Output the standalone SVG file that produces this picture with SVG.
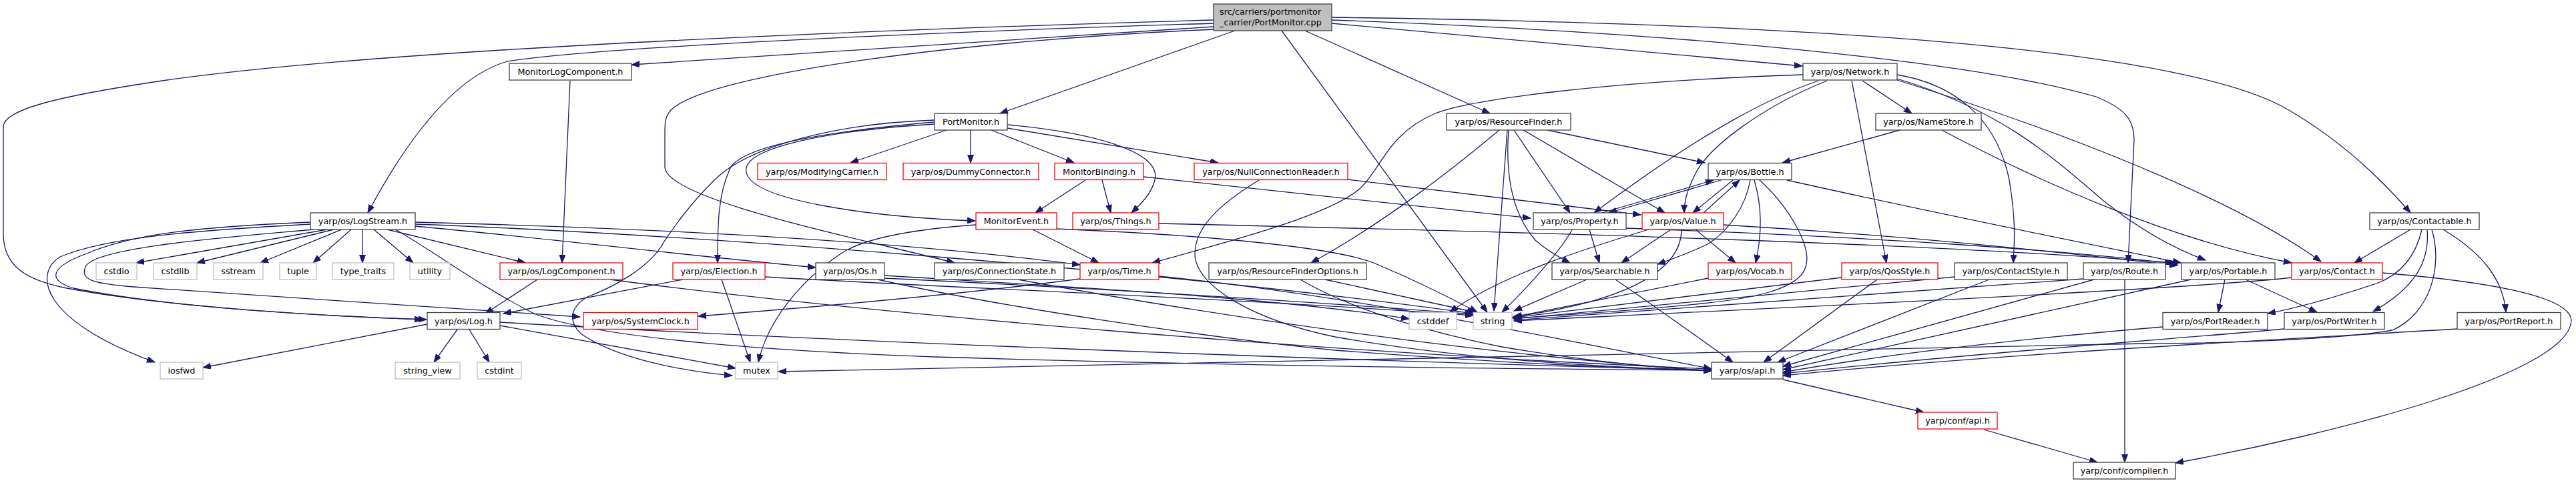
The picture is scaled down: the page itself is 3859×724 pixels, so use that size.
<svg xmlns="http://www.w3.org/2000/svg" width="3859" height="724" viewBox="0 0 3859 724">
<style>
.n rect{fill:#ffffff;stroke:#404040;stroke-width:1.3}
.n.r rect{stroke:#ff0000}
.n.g rect{stroke:#bfbfbf}
.n.m rect{fill:#bfbfbf}
text{font-family:"DejaVu Sans","Liberation Sans",sans-serif;font-size:12.8px;fill:#000000;text-anchor:middle}
.n.m text{text-anchor:start}
#edges path{fill:none;stroke:#191970;stroke-width:1.3;marker-end:url(#a)}
</style>
<defs>
<marker id="a" markerWidth="13" markerHeight="10" refX="12" refY="4.5" orient="auto" markerUnits="userSpaceOnUse">
<path d="M0,0 L12,4.5 L0,9 z" fill="#191970" stroke="#191970" stroke-width="1"/>
</marker>
</defs>
<rect width="3859" height="724" fill="#ffffff"/>
<g id="edges">
<!-- main -->
<path d="M1818,30 C1400,42 600,70 250,120 C80,145 5,165 5,190 L5,350 C5,400 40,420 100,432 C250,460 480,474 639,479"/>
<path d="M1818,35 C1400,48 900,70 760,92 C690,112 620,190 551,319"/>
<path d="M1818,40 L946,97"/>
<path d="M1818,44 C1450,60 1060,110 1005,165 C996,175 996,185 996,200 L996,250 C996,300 1300,360 1430,394"/>
<path d="M1850,46 L1498,170"/>
<path d="M1920,46 L2228,468"/>
<path d="M1955,46 L2232,170"/>
<path d="M1995,35 L2700,99"/>
<path d="M1995,30 C2500,48 2950,90 3140,145 C3190,165 3197,185 3197,210 L3188,394"/>
<path d="M1995,26 C2700,35 3250,70 3420,160 C3500,205 3560,260 3611,319"/>
<!-- MonitorLogComponent -->
<path d="M854,121 L842,394"/>
<!-- PortMonitor -->
<path d="M1418,195 L1274,244"/>
<path d="M1454,195 L1454,244"/>
<path d="M1485,195 L1609,244"/>
<path d="M1509,192 L1825,244"/>
<path d="M1509,187 C1650,200 1740,230 1730,270 C1725,290 1710,305 1695,319"/>
<path d="M1400,186 C1250,195 1110,220 1118,258 C1125,300 1300,325 1461,331"/>
<path d="M1400,183 C1260,195 1120,215 1095,250 C1075,290 1075,340 1075,394"/>
<path d="M1400,180 C1250,185 1120,220 1070,270 C1030,310 1010,340 995,362 C975,400 920,430 880,445 C855,460 850,480 870,500 C920,535 1010,555 1097,563"/>
<!-- MonitorBinding -->
<path d="M1626,270 L1551,319"/>
<path d="M1651,270 L1664,319"/>
<path d="M1713,265 L2293,327"/>
<!-- NullConnectionReader -->
<path d="M2019,269 L2458,322"/>
<path d="M1886,270 C1820,310 1790,345 1790,380 C1790,430 1880,480 2000,505 C2200,540 2400,550 2564,556"/>
<!-- MonitorEvent -->
<path d="M1547,344 L1646,394"/>
<path d="M1462,337 C1350,345 1290,360 1260,380 C1200,420 1150,480 1136,543"/>
<path d="M1583,343 C1800,352 2000,370 2060,395 C2120,420 2170,445 2213,468"/>
<!-- Things -->
<path d="M1736,335 C2300,348 2900,365 3255,394"/>
<!-- Property -->
<path d="M2400,319 L2567,270"/>
<path d="M2381,344 L2396,394"/>
<path d="M2355,344 C2345,365 2300,420 2250,468"/>
<path d="M2436,342 C2800,355 3100,375 3262,396"/>
<!-- Bottle -->
<path d="M2578,270 L2410,319"/>
<path d="M2596,270 L2536,319"/>
<path d="M2622,270 C2615,310 2590,345 2560,365 C2530,380 2500,390 2483,396"/>
<path d="M2628,270 C2640,310 2640,350 2630,394"/>
<path d="M2636,270 C2680,310 2715,370 2705,400 C2695,435 2620,448 2550,455 C2450,465 2350,472 2266,477"/>
<path d="M2677,270 C2900,320 3150,370 3267,394"/>
<!-- Value -->
<path d="M2552,319 L2606,270"/>
<path d="M2503,344 L2429,394"/>
<path d="M2470,344 C2400,365 2250,410 2172,468"/>
<path d="M2519,344 C2519,400 2450,450 2266,475"/>
<path d="M2540,344 L2600,394"/>
<path d="M2582,337 C2800,350 3000,368 3262,398"/>
<!-- ResourceFinder -->
<path d="M2246,195 C2180,250 2080,330 1964,394"/>
<path d="M2258,195 L2238,466"/>
<path d="M2260,195 C2255,260 2265,320 2300,360 C2320,378 2340,388 2352,394"/>
<path d="M2268,195 L2352,319"/>
<path d="M2282,195 L2494,319"/>
<path d="M2318,195 L2554,244"/>
<!-- ResourceFinderOptions -->
<path d="M1985,419 L2210,468"/>
<path d="M1948,419 C2000,450 2100,490 2250,520 C2400,545 2500,552 2564,556"/>
<!-- Network -->
<path d="M2701,112 C2400,122 2200,150 2150,170 C2080,200 2070,250 2040,280 C2000,320 1850,360 1726,394"/>
<path d="M2724,121 C2660,143 2560,190 2388,319"/>
<path d="M2737,121 C2640,160 2560,220 2540,260 C2525,290 2523,305 2523,319"/>
<path d="M2790,121 L2864,170"/>
<path d="M2774,121 L2826,394"/>
<path d="M2842,112 C2920,125 2990,170 3010,270 C3020,330 3018,360 3016,394"/>
<path d="M2842,118 C3000,165 3080,240 3150,300 C3200,340 3250,370 3304,390"/>
<path d="M2842,120 C3100,200 3350,300 3477,392"/>
<!-- NameStore -->
<path d="M2846,195 L2670,244"/>
<path d="M2909,195 C3050,270 3250,360 3433,394"/>
<!-- Searchable -->
<path d="M2377,419 L2268,466"/>
<path d="M2420,419 C2480,460 2550,510 2596,543"/>
<!-- Vocab -->
<path d="M2559,417 L2268,475"/>
<!-- QosStyle -->
<path d="M2759,416 L2268,476"/>
<path d="M2812,419 L2642,543"/>
<!-- ContactStyle -->
<path d="M2928,415 L2268,478"/>
<path d="M2980,419 L2663,543"/>
<!-- Route -->
<path d="M3121,418 L2268,480"/>
<path d="M3137,419 L2671,549"/>
<path d="M3183,419 L3183,693"/>
<!-- Portable -->
<path d="M3333,419 L3323,468"/>
<path d="M3364,419 L3471,468"/>
<path d="M3282,419 L2671,554"/>
<!-- Contact -->
<path d="M3433,416 C3300,432 2700,460 2268,481"/>
<path d="M3569,409 C3700,420 3850,440 3852,480 C3850,560 3500,650 3259,694"/>
<!-- PortReader / PortWriter / PortReport -->
<path d="M3240,490 C3000,510 2800,535 2671,558"/>
<path d="M3422,493 C3300,505 3000,525 2671,560"/>
<path d="M3681,493 C3400,510 3000,530 2671,563"/>
<!-- Contactable -->
<path d="M3611,344 L3527,394"/>
<path d="M3628,344 C3620,380 3600,410 3560,425 C3500,445 3450,460 3397,470"/>
<path d="M3636,344 C3640,390 3620,430 3555,467"/>
<path d="M3643,344 C3660,400 3640,470 3584,495 C3500,510 3300,515 3214,515 L1166,557"/>
<path d="M3660,344 C3720,380 3750,420 3754,468"/>
<!-- Election -->
<path d="M1023,419 L754,470"/>
<path d="M1081,419 L1124,543"/>
<path d="M1146,415 C1400,430 1900,450 2207,473"/>
<!-- Os -->
<path d="M1315,419 C1500,460 1800,505 2000,525 C2300,548 2450,552 2564,555"/>
<path d="M1325,413 C1600,430 1900,445 2111,478"/>
<path d="M1325,417 C1700,435 2000,455 2207,471"/>
<!-- ConnectionState -->
<path d="M1525,419 C1800,470 2200,530 2564,556"/>
<!-- Time -->
<path d="M1618,418 C1450,440 1250,458 1046,474"/>
<path d="M1736,414 C2000,440 2300,500 2564,553"/>
<!-- LogComponent -->
<path d="M805,419 L727,470"/>
<path d="M914,419 C1300,470 2000,530 2564,553"/>
<!-- Log -->
<path d="M640,486 L304,551"/>
<path d="M685,494 L650,543"/>
<path d="M703,494 L733,543"/>
<path d="M749,488 L1102,552"/>
<path d="M749,483 C1200,510 2000,540 2564,555"/>
<!-- LogStream -->
<path d="M465,333 C300,340 200,350 130,380 C75,400 70,420 110,432 C250,460 450,472 633,479"/>
<path d="M465,336 C300,345 160,355 90,385 C50,410 60,480 232,543"/>
<path d="M470,344 C350,355 140,370 128,400 C120,420 140,425 200,430 C400,445 700,462 869,475"/>
<path d="M490,344 L204,394"/>
<path d="M500,344 L295,394"/>
<path d="M512,344 L390,394"/>
<path d="M526,344 L469,394"/>
<path d="M543,344 L543,394"/>
<path d="M560,344 L619,394"/>
<path d="M580,344 L787,394"/>
<path d="M592,344 C640,370 720,430 800,470 C900,510 1200,528 1400,535 C1900,550 2300,553 2564,555"/>
<path d="M622,336 C1000,350 1700,400 2207,470"/>
<path d="M622,339 C800,355 1000,380 1222,401"/>
<path d="M622,333 C900,340 1300,355 1618,397"/>
<!-- api -->
<path d="M2671,569 L2882,618"/>
<path d="M2972,644 L3142,693"/>
</g>
<g id="node-main" class="n m"><rect x="1818" y="6" width="177" height="40"/><text x="1827" y="22">src/carriers/portmonitor</text><text x="1827" y="38">_carrier/PortMonitor.cpp</text></g>
<g id="node-MonitorLogComponent" class="n"><rect x="763" y="95" width="183" height="25"/><text x="854.5" y="112">MonitorLogComponent.h</text></g>
<g id="node-Network" class="n"><rect x="2701" y="95" width="141" height="25"/><text x="2771.5" y="112">yarp/os/Network.h</text></g>
<g id="node-PortMonitor" class="n"><rect x="1400" y="170" width="109" height="25"/><text x="1454.5" y="187">PortMonitor.h</text></g>
<g id="node-ResourceFinder" class="n"><rect x="2167" y="170" width="186" height="25"/><text x="2260" y="187">yarp/os/ResourceFinder.h</text></g>
<g id="node-NameStore" class="n"><rect x="2810" y="170" width="158" height="25"/><text x="2889" y="187">yarp/os/NameStore.h</text></g>
<g id="node-ModifyingCarrier" class="n r"><rect x="1135" y="244.5" width="193" height="25"/><text x="1231.5" y="261.5">yarp/os/ModifyingCarrier.h</text></g>
<g id="node-DummyConnector" class="n r"><rect x="1353" y="244.5" width="203" height="25"/><text x="1454.5" y="261.5">yarp/os/DummyConnector.h</text></g>
<g id="node-MonitorBinding" class="n r"><rect x="1580" y="244.5" width="133" height="25"/><text x="1646.5" y="261.5">MonitorBinding.h</text></g>
<g id="node-NullConnectionReader" class="n r"><rect x="1789" y="244.5" width="230" height="25"/><text x="1904" y="261.5">yarp/os/NullConnectionReader.h</text></g>
<g id="node-Bottle" class="n"><rect x="2559" y="244.5" width="125" height="25"/><text x="2621.5" y="261.5">yarp/os/Bottle.h</text></g>
<g id="node-LogStream" class="n"><rect x="465" y="319" width="157" height="25"/><text x="543.5" y="336">yarp/os/LogStream.h</text></g>
<g id="node-MonitorEvent" class="n r"><rect x="1462" y="319" width="121" height="25"/><text x="1522.5" y="336">MonitorEvent.h</text></g>
<g id="node-Things" class="n r"><rect x="1607" y="319" width="129" height="25"/><text x="1671.5" y="336">yarp/os/Things.h</text></g>
<g id="node-Property" class="n"><rect x="2297" y="319" width="139" height="25"/><text x="2366.5" y="336">yarp/os/Property.h</text></g>
<g id="node-Value" class="n r"><rect x="2460" y="319" width="122" height="25"/><text x="2521" y="336">yarp/os/Value.h</text></g>
<g id="node-Contactable" class="n"><rect x="3550" y="319" width="164" height="25"/><text x="3632" y="336">yarp/os/Contactable.h</text></g>
<g id="node-cstdio" class="n g"><rect x="144" y="394" width="61" height="25"/><text x="174.5" y="411">cstdio</text></g>
<g id="node-cstdlib" class="n g"><rect x="230" y="394" width="65" height="25"/><text x="262.5" y="411">cstdlib</text></g>
<g id="node-sstream" class="n g"><rect x="320" y="394" width="74" height="25"/><text x="357" y="411">sstream</text></g>
<g id="node-tuple" class="n g"><rect x="419" y="394" width="55" height="25"/><text x="446.5" y="411">tuple</text></g>
<g id="node-type_traits" class="n g"><rect x="498" y="394" width="92" height="25"/><text x="544" y="411">type_traits</text></g>
<g id="node-utility" class="n g"><rect x="614" y="394" width="60" height="25"/><text x="644" y="411">utility</text></g>
<g id="node-LogComponent" class="n r"><rect x="749" y="394" width="184" height="25"/><text x="841" y="411">yarp/os/LogComponent.h</text></g>
<g id="node-Election" class="n r"><rect x="1008" y="394" width="138" height="25"/><text x="1077" y="411">yarp/os/Election.h</text></g>
<g id="node-Os" class="n"><rect x="1222" y="394" width="103" height="25"/><text x="1273.5" y="411">yarp/os/Os.h</text></g>
<g id="node-ConnectionState" class="n"><rect x="1400" y="394" width="194" height="25"/><text x="1497" y="411">yarp/os/ConnectionState.h</text></g>
<g id="node-Time" class="n r"><rect x="1618" y="394" width="118" height="25"/><text x="1677" y="411">yarp/os/Time.h</text></g>
<g id="node-ResourceFinderOptions" class="n"><rect x="1811" y="394" width="236" height="25"/><text x="1929" y="411">yarp/os/ResourceFinderOptions.h</text></g>
<g id="node-Searchable" class="n"><rect x="2325" y="394" width="158" height="25"/><text x="2404" y="411">yarp/os/Searchable.h</text></g>
<g id="node-Vocab" class="n r"><rect x="2559" y="394" width="125" height="25"/><text x="2621.5" y="411">yarp/os/Vocab.h</text></g>
<g id="node-QosStyle" class="n r"><rect x="2759" y="394" width="144" height="25"/><text x="2831" y="411">yarp/os/QosStyle.h</text></g>
<g id="node-ContactStyle" class="n"><rect x="2928" y="394" width="169" height="25"/><text x="3012.5" y="411">yarp/os/ContactStyle.h</text></g>
<g id="node-Route" class="n"><rect x="3121" y="394" width="123" height="25"/><text x="3182.5" y="411">yarp/os/Route.h</text></g>
<g id="node-Portable" class="n"><rect x="3268" y="394" width="140" height="25"/><text x="3338" y="411">yarp/os/Portable.h</text></g>
<g id="node-Contact" class="n r"><rect x="3433" y="394" width="136" height="25"/><text x="3501" y="411">yarp/os/Contact.h</text></g>
<g id="node-Log" class="n"><rect x="640" y="468.5" width="109" height="25"/><text x="694.5" y="485.5">yarp/os/Log.h</text></g>
<g id="node-SystemClock" class="n r"><rect x="874" y="468.5" width="171" height="25"/><text x="959.5" y="485.5">yarp/os/SystemClock.h</text></g>
<g id="node-cstddef" class="n g"><rect x="2111" y="468.5" width="71" height="25"/><text x="2146.5" y="485.5">cstddef</text></g>
<g id="node-string" class="n g"><rect x="2207" y="468.5" width="58" height="25"/><text x="2236" y="485.5">string</text></g>
<g id="node-PortReader" class="n"><rect x="3240" y="468.5" width="157" height="25"/><text x="3318.5" y="485.5">yarp/os/PortReader.h</text></g>
<g id="node-PortWriter" class="n"><rect x="3422" y="468.5" width="150" height="25"/><text x="3497" y="485.5">yarp/os/PortWriter.h</text></g>
<g id="node-PortReport" class="n"><rect x="3681" y="468.5" width="155" height="25"/><text x="3758.5" y="485.5">yarp/os/PortReport.h</text></g>
<g id="node-iosfwd" class="n g"><rect x="240" y="543" width="64" height="25"/><text x="272" y="560">iosfwd</text></g>
<g id="node-string_view" class="n g"><rect x="592" y="543" width="97" height="25"/><text x="640.5" y="560">string_view</text></g>
<g id="node-cstdint" class="n g"><rect x="715" y="543" width="66" height="25"/><text x="748" y="560">cstdint</text></g>
<g id="node-mutex" class="n g"><rect x="1102" y="543" width="63" height="25"/><text x="1133.5" y="560">mutex</text></g>
<g id="node-api" class="n"><rect x="2564" y="543" width="107" height="25"/><text x="2617.5" y="560">yarp/os/api.h</text></g>
<g id="node-confapi" class="n r"><rect x="2873" y="618" width="119" height="25"/><text x="2932.5" y="635">yarp/conf/api.h</text></g>
<g id="node-compiler" class="n"><rect x="3106" y="693" width="153" height="25"/><text x="3182.5" y="710">yarp/conf/compiler.h</text></g>
</svg>
